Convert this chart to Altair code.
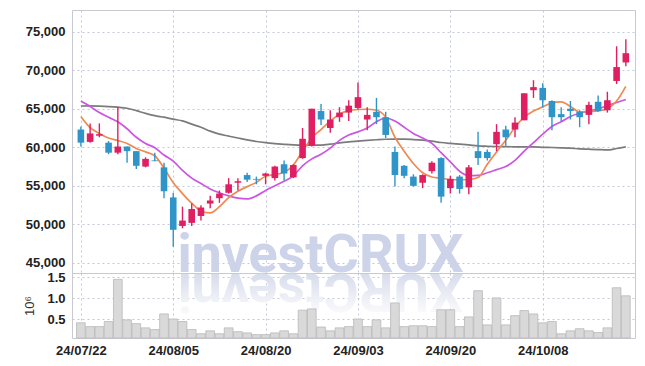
import altair as alt
import pandas as pd

# ---------------- data ----------------
dates = ["24/07/22", "24/07/23", "24/07/24", "24/07/25", "24/07/26", "24/07/29", "24/07/30", "24/07/31",
         "24/08/01", "24/08/02", "24/08/05", "24/08/06", "24/08/07", "24/08/08", "24/08/09", "24/08/12",
         "24/08/13", "24/08/14", "24/08/16", "24/08/19", "24/08/20", "24/08/21", "24/08/22", "24/08/23",
         "24/08/26", "24/08/27", "24/08/28", "24/08/29", "24/08/30", "24/09/02", "24/09/03", "24/09/04",
         "24/09/05", "24/09/06", "24/09/09", "24/09/10", "24/09/11", "24/09/12", "24/09/13", "24/09/19",
         "24/09/20", "24/09/23", "24/09/24", "24/09/25", "24/09/26", "24/09/27", "24/09/30", "24/10/02",
         "24/10/04", "24/10/07", "24/10/08", "24/10/10", "24/10/11", "24/10/14", "24/10/15", "24/10/16",
         "24/10/17", "24/10/18", "24/10/21", "24/10/22"]

opens = [62300, 60700, 61500, 60600, 59300, 60100, 59500, 57500, 58300, 57400,
         53500, 49800, 50200, 51100, 52700, 53400, 54100, 55400, 56400, 55900,
         56300, 56000, 57800, 56100, 58600, 60200, 64700, 62500, 63900, 64500,
         65100, 63600, 64600, 63900, 59400, 57600, 56200, 55400, 56900, 58600,
         54700, 56200, 54800, 59500, 59400, 60400, 62300, 62300, 63500, 67400,
         67700, 66000, 64300, 65000, 64600, 64200, 65900, 64800, 68600, 71000]
closes = [60600, 61800, 61700, 59300, 60100, 59500, 57600, 58500, 58200, 54300,
          49300, 50500, 52000, 52200, 53100, 54000, 55200, 55600, 55800, 55800,
          56600, 57500, 56600, 57700, 61100, 65000, 63600, 63600, 64500, 65400,
          66500, 64200, 63900, 61600, 56400, 56300, 55000, 56400, 58000, 53600,
          55900, 54600, 57400, 58600, 58600, 62000, 61300, 63200, 67000, 67800,
          66100, 63900, 63900, 64700, 63900, 65500, 64700, 66100, 70400, 72200]
highs = [62700, 63100, 63100, 60800, 65200, 60100, 59500, 58700, 59300, 58000,
         54100, 52300, 52700, 52500, 53700, 54400, 56000, 56000, 56700, 56200,
         56700, 57600, 58300, 57800, 62500, 65000, 65600, 64800, 65200, 66100,
         68400, 65200, 66400, 64600, 60100, 57700, 56500, 56500, 58200, 58700,
         56300, 56400, 57700, 62000, 59700, 63000, 62800, 63900, 67000, 68700,
         68300, 66100, 65200, 66000, 64800, 65900, 66700, 67200, 73100, 74000]
lows = [60100, 60600, 61300, 59100, 59100, 58000, 57200, 57400, 58200, 53400,
        47100, 49500, 49800, 50500, 52100, 52800, 54000, 54400, 55500, 55200,
        55200, 55700, 55700, 56000, 58500, 60100, 62900, 61900, 63300, 63400,
        64900, 62200, 63000, 61200, 54900, 56000, 54900, 54700, 56600, 52800,
        54000, 54000, 53900, 57700, 58300, 59500, 60200, 61300, 63500, 66400,
        65200, 62200, 63400, 63600, 62600, 63000, 64600, 64500, 68200, 70500]

ma_orange = [64000, 62550, 61800, 61200, 60870, 60500, 59850, 59400, 58900, 57300,
             55400, 54000, 52750, 51750, 51500, 52300, 53480, 54300, 54900, 55450,
             56250, 56450, 56750, 57700, 59500, 61200, 62300, 63400, 64300, 64750,
             64900, 64930, 64800, 63900, 61300, 59500, 57900, 56700, 56150, 55990,
             55820, 55780, 55820, 56080, 57800, 59400, 60900, 62600, 63900, 64700,
             65240, 65750, 65880, 65300, 64600, 64650, 64720, 65000, 66000, 67900]
ma_purple = [66000, 65300, 64500, 63900, 63300, 62400, 61300, 60500, 59950, 59000,
             58200, 57000, 56000, 55300, 54600, 54100, 53700, 53400, 53300, 53700,
             54400, 55000, 55600, 56300, 57600, 58500, 59100, 59900, 60900, 61600,
             62000, 62500, 63300, 63800, 63400, 62600, 61800, 61200, 60500, 59300,
             58100, 56900, 56300, 56350, 56700, 57100, 57500, 58300, 59500, 60600,
             61700, 62700, 63300, 64000, 64400, 64700, 65000, 65400, 65800, 66200]
ma_gray = [65350, 65360, 65330, 65280, 65200, 65060, 64750, 64400, 64100, 63900,
           63650, 63420, 63000, 62600, 62100, 61700, 61450, 61200, 60950, 60750,
           60600, 60480, 60380, 60300, 60270, 60270, 60280, 60400, 60570, 60700,
           60800, 60900, 60980, 61040, 61050, 61050, 61000, 60920, 60800, 60620,
           60500, 60400, 60300, 60180, 60130, 60100, 60080, 60060, 60050, 60050,
           60000, 59970, 59930, 59880, 59800, 59750, 59700, 59660, 59840, 60050]

volumes = [0.42, 0.33, 0.33, 0.45, 1.45, 0.49, 0.40, 0.30, 0.26, 0.63,
           0.51, 0.45, 0.26, 0.16, 0.23, 0.16, 0.30, 0.21, 0.18, 0.14,
           0.14, 0.18, 0.23, 0.16, 0.72, 0.75, 0.32, 0.23, 0.30, 0.33,
           0.51, 0.33, 0.49, 0.30, 0.89, 0.33, 0.35, 0.35, 0.33, 0.73,
           0.73, 0.33, 0.56, 1.18, 0.37, 1.01, 0.37, 0.59, 0.71, 0.63,
           0.42, 0.45, 0.16, 0.23, 0.28, 0.23, 0.19, 0.30, 1.25, 1.06]

price_ticks = [45000, 50000, 55000, 60000, 65000, 70000, 75000]
volume_ticks = [0.5, 1.0, 1.5]
date_ticks = [0, 10, 20, 30, 40, 50]
watermark = "investCRUX"

# ---------------- tables ----------------
n = len(dates)
df = pd.DataFrame({"i": list(range(n)), "date": dates, "open": opens, "close": closes,
                   "high": highs, "low": lows, "vol": volumes})
df["dir"] = ["up" if c >= o else "down" for o, c in zip(opens, closes)]

ma_df = pd.DataFrame({
    "i": list(range(n)) * 3,
    "value": ma_gray + ma_purple + ma_orange,
    "series": ["a_long"] * n + ["b_mid"] * n + ["c_short"] * n,
})

# ---------------- styles ----------------
FONT = "Liberation Sans, Arial, sans-serif"
RED = "#e01e62"
BLUE = "#2f95c9"
W = 563
H_PRICE = 263
H_VOL = 65

label_expr = "[" + ",".join("'" + d + "'" for d in dates) + "][datum.value]"
xscale = alt.Scale(domain=[-0.42, 59.45], nice=False, zero=False)

x_nolabel = alt.X("i:Q", scale=xscale,
                  axis=alt.Axis(values=date_ticks, labels=False, ticks=False, domain=False,
                                grid=True, title=None))
x_label = alt.X("i:Q", scale=xscale,
                axis=alt.Axis(values=date_ticks, labelExpr=label_expr, ticks=False, domain=False,
                              grid=True, title=None, labelFlush=False, labelPadding=6,
                              labelOverlap=False))

pscale = alt.Scale(domain=[43700, 77800], nice=False, zero=False)
paxis = alt.Axis(values=price_ticks, format=",.0f", title=None, ticks=False, domain=False,
                 grid=True, labelPadding=7)

# watermark letters (decoration)
adv = [0.25, 0.56, 0.50, 0.53, 0.52, 0.33, 0.66, 0.64, 0.66, 0.64]
WM_SIZE = 54
start = 106
centers = []
acc = start
for a in adv:
    centers.append(acc + a * WM_SIZE / 2)
    acc += a * WM_SIZE

one = pd.DataFrame({"k": [0]})
wm_layers = []
for ch, cx in zip(watermark, centers):
    wm_layers.append(
        alt.Chart(one).mark_text(text=ch, font="Roboto", fontWeight="bold", fontSize=WM_SIZE,
                                 color="#cdd3e8", align="center", baseline="alphabetic")
        .encode(x=alt.value(cx), y=alt.value(262))
    )

# reflection: rotated glyphs with a fading gradient (dense near the baseline)
refl_grad = alt.LinearGradient(
    gradient="linear",
    stops=[alt.GradientStop(color="#ffffff", offset=0.0),
           alt.GradientStop(color="#f4f5f9", offset=0.3),
           alt.GradientStop(color="#d8ddec", offset=0.78),
           alt.GradientStop(color="#d8ddec", offset=1.0)],
    x1=0, x2=0, y1=0, y2=1)
refl_layers = []
for ch, cx in zip(watermark, centers):
    refl_layers.append(
        alt.Chart(one).mark_text(text=ch, font="Roboto", fontWeight="bold", fontSize=WM_SIZE,
                                 fill=refl_grad, align="center", baseline="alphabetic", angle=180)
        .encode(x=alt.value(cx), y=alt.value(1))
    )

base = alt.Chart(df)

ma_lines = alt.Chart(ma_df).mark_line(strokeWidth=1.7, interpolate="monotone").encode(
    x=x_nolabel,
    y=alt.Y("value:Q", scale=pscale, axis=paxis),
    color=alt.Color("series:N", scale=alt.Scale(domain=["a_long", "b_mid", "c_short"],
                                                range=["#7b7b7b", "#cc55e2", "#ee8a52"]),
                    legend=None),
    detail="series:N",
)

dir_color = alt.Color("dir:N", scale=alt.Scale(domain=["up", "down"], range=[RED, BLUE]), legend=None)

wicks = base.mark_rule(strokeWidth=1.4).encode(
    x=x_nolabel,
    y=alt.Y("low:Q", scale=pscale, axis=paxis),
    y2="high:Q",
    color=dir_color,
)
bodies = base.mark_bar(size=6.6).encode(
    x=x_nolabel,
    y=alt.Y("open:Q", scale=pscale, axis=paxis),
    y2="close:Q",
    color=dir_color,
)

candles = alt.layer(wicks, bodies)
price = (
    alt.layer(*wm_layers, ma_lines, candles)
    .resolve_scale(color="independent")
    .properties(width=W, height=H_PRICE)
)

vol_bars = base.mark_bar(size=8.7, color="#d9d9d9", stroke="#b9b9b9", strokeWidth=0.8).encode(
    x=x_label,
    y=alt.Y("vol:Q", scale=alt.Scale(domain=[0.06, 1.60], nice=False, zero=False),
            axis=alt.Axis(values=volume_ticks, format=".1f", title="10⁶", ticks=False, domain=False,
                          grid=True, labelPadding=7, titlePadding=10, titleFont=FONT,
                          titleFontSize=13, titleFontWeight="normal", titleColor="#333")),
    y2=alt.datum(0.06),
)

volume = alt.layer(*refl_layers, vol_bars).properties(width=W, height=H_VOL)

chart = (
    alt.vconcat(price, volume, spacing=0, bounds="flush")
    .properties(padding={"left": 15, "top": 1, "right": 0, "bottom": 0})
    .configure_view(stroke="#c9c9d2", strokeWidth=1)
    .configure_axis(labelFont=FONT, labelFontSize=13, labelFontWeight="bold", labelColor="#222",
                    gridColor="#c3c7dc", gridDash=[2, 3], gridWidth=1)
)

chart.save("out.html", embed_options={"renderer": "svg", "actions": False})
